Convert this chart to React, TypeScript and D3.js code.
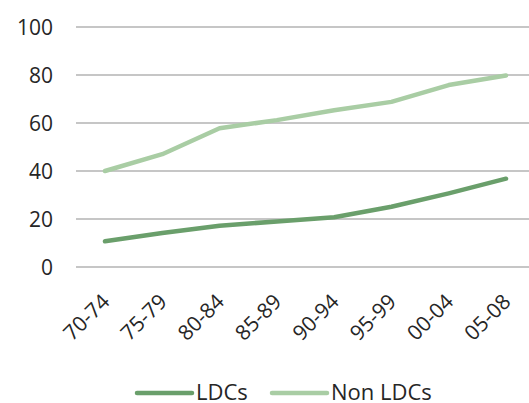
import { useEffect, useRef } from 'react';
import * as d3 from 'd3';

const categories = ['70-74', '75-79', '80-84', '85-89', '90-94', '95-99', '00-04', '05-08'];
const ldcs = [10.7, 14.2, 17.2, 19.0, 20.7, 25.1, 30.7, 36.8];
const nonLdcs = [40.0, 47.0, 57.8, 61.2, 65.3, 68.8, 75.8, 79.8];
const yTicks = [0, 20, 40, 60, 80, 100];

const seriesList = [
  { name: 'LDCs', values: ldcs, color: '#6a9f6b' },
  { name: 'Non LDCs', values: nonLdcs, color: '#a9cda4' },
];

const W = 529;
const H = 403;
const FONT = '"Open Sans", sans-serif';

export default function App() {
  const svgRef = useRef<SVGSVGElement>(null);

  useEffect(() => {
    if (!svgRef.current) return;
    const svg = d3.select(svgRef.current);
    svg.selectAll('*').remove();

    const x = d3.scalePoint<string>().domain(categories).range([105, 506]);
    const y = d3.scaleLinear().domain([0, 100]).range([267, 27]);

    // gridlines
    svg.append('g')
      .selectAll('line')
      .data(yTicks)
      .enter()
      .append('line')
      .attr('x1', 76)
      .attr('x2', W)
      .attr('y1', d => y(d))
      .attr('y2', d => y(d))
      .attr('stroke', '#b3b3b3')
      .attr('stroke-width', 1.3);

    // y labels
    svg.append('g')
      .selectAll('text')
      .data(yTicks)
      .enter()
      .append('text')
      .attr('x', 53)
      .attr('y', d => y(d))
      .attr('dy', '0.36em')
      .attr('text-anchor', 'end')
      .attr('font-family', FONT)
      .attr('font-size', 21)
      .attr('fill', '#262626')
      .text(d => d);

    // x labels
    svg.append('g')
      .selectAll('text')
      .data(categories)
      .enter()
      .append('text')
      .attr('transform', d => `translate(${x(d)! + 6},303) rotate(-45)`)
      .attr('text-anchor', 'end')
      .attr('font-family', FONT)
      .attr('font-size', 21)
      .attr('fill', '#262626')
      .text(d => d);

    const line = d3.line<number>()
      .x((_, i) => x(categories[i])!)
      .y(d => y(d));

    svg.append('g')
      .selectAll('path')
      .data(seriesList)
      .enter()
      .append('path')
      .attr('d', d => line(d.values))
      .attr('fill', 'none')
      .attr('stroke', d => d.color)
      .attr('stroke-width', 4.5)
      .attr('stroke-linecap', 'round')
      .attr('stroke-linejoin', 'round');

    // legend
    const legendPos = [137, 272];
    const legend = svg.append('g')
      .selectAll('g')
      .data(seriesList)
      .enter()
      .append('g')
      .attr('transform', (_, i) => `translate(${legendPos[i]},393)`);

    legend.append('line')
      .attr('x1', 0)
      .attr('x2', 55)
      .attr('stroke', d => d.color)
      .attr('stroke-width', 4.5)
      .attr('stroke-linecap', 'round');

    legend.append('text')
      .attr('x', 59)
      .attr('dy', '0.34em')
      .attr('font-family', FONT)
      .attr('font-size', 22)
      .attr('fill', '#262626')
      .text(d => d.name);
  }, []);

  return (
    <svg
      ref={svgRef}
      width={W}
      height={H}
      style={{ position: 'absolute', left: 0, top: 0, background: '#fff' }}
    />
  );
}
